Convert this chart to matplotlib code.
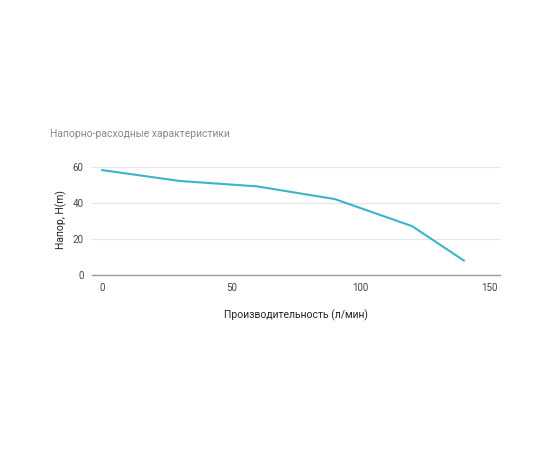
import matplotlib.pyplot as plt

plt.rcParams["font.family"] = ["Roboto", "DejaVu Sans"]

flow = [0, 30, 60, 90, 120, 140]
head = [58, 52, 49, 42, 27, 8]
x_ticks = [0, 50, 100, 150]
y_ticks = [0, 20, 40, 60]

fig = plt.figure(figsize=(5.5, 4.5), dpi=100)
ax = fig.add_axes([0.167, 0.389, 0.742, 0.245])
ax.plot(flow, head, color="#3cb4c8", lw=1.5)
ax.set_xlim(-4, 154)
ax.set_ylim(0, 61)
ax.set_xticks(x_ticks)
ax.set_yticks(y_ticks)
ax.grid(axis="y", color="#e6e6e6", lw=0.8)
ax.axhline(0, color="#999999", lw=1.0, clip_on=False, zorder=3)
for s in ax.spines.values():
    s.set_visible(False)
ax.tick_params(length=0, labelsize=7, colors="#444444", pad=6)
ax.set_xlabel("Производительность (л/мин)", fontsize=7.5, color="#222222", labelpad=12)
ax.set_ylabel("Напор, H(m)", fontsize=7.5, color="#222222", labelpad=4)
fig.text(0.091, 0.695, "Напорно-расходные характеристики", fontsize=7.5, color="#888888")

fig.savefig("out.png", dpi=100)
